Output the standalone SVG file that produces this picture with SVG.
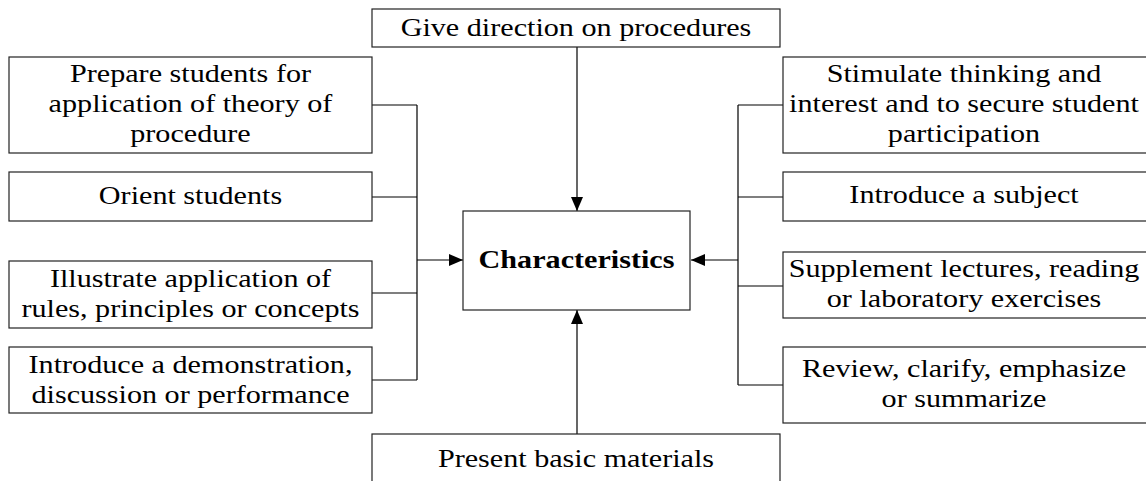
<svg xmlns="http://www.w3.org/2000/svg" width="1146" height="481" viewBox="0 0 1146 481">
<style>
.box{fill:#fff;stroke:#222;stroke-width:1.2}
.t{font-family:"Liberation Serif","Times New Roman",serif;font-size:26px;fill:#000;text-anchor:middle}
.b{font-weight:bold}
.ln{fill:none;stroke:#000;stroke-width:1.2}
</style>
<defs>
<marker id="ah" viewBox="0 0 14 12" refX="14" refY="6" markerWidth="14" markerHeight="12" markerUnits="userSpaceOnUse" orient="auto">
<path d="M0,0 L14,6 L0,12 Z" fill="#000"/>
</marker>
</defs>
<rect width="1146" height="481" fill="#fff"/>
<g id="connectors">
<path class="ln" d="M372,105 H417 M372,197 H417 M372,293 H417 M372,380 H417 M417,105 V380"/>
<path class="ln" d="M417,260 H463" marker-end="url(#ah)"/>
<path class="ln" d="M783,105 H738 M783,197 H738 M783,286 H738 M783,385 H738 M738,105 V385"/>
<path class="ln" d="M738,260 H691" marker-end="url(#ah)"/>
<path class="ln" d="M577,47 V211" marker-end="url(#ah)"/>
<path class="ln" d="M577,434 V310" marker-end="url(#ah)"/>
</g>
<g id="top">
<rect class="box" x="372" y="9" width="408" height="38"/>
<text class="t" transform="matrix(1.16 0 0 1 576 0)"><tspan x="0" y="36">Give direction on procedures</tspan></text>
</g>
<g id="bottom">
<rect class="box" x="372" y="434" width="408" height="60"/>
<text class="t" transform="matrix(1.16 0 0 1 576 0)"><tspan x="0" y="467">Present basic materials</tspan></text>
</g>
<g id="center">
<rect class="box" x="463" y="211" width="227" height="99"/>
<text class="t b" transform="matrix(1.16 0 0 1 576.5 0)"><tspan x="0" y="268">Characteristics</tspan></text>
</g>
<g id="left1">
<rect class="box" x="9" y="57" width="363" height="96"/>
<text class="t" transform="matrix(1.16 0 0 1 190.5 0)"><tspan x="0" y="82">Prepare students for</tspan><tspan x="0" y="112">application of theory of</tspan><tspan x="0" y="142">procedure</tspan></text>
</g>
<g id="left2">
<rect class="box" x="9" y="172" width="363" height="49"/>
<text class="t" transform="matrix(1.16 0 0 1 190.5 0)"><tspan x="0" y="204">Orient students</tspan></text>
</g>
<g id="left3">
<rect class="box" x="9" y="261" width="363" height="67"/>
<text class="t" transform="matrix(1.16 0 0 1 190.5 0)"><tspan x="0" y="287">Illustrate application of</tspan><tspan x="0" y="317">rules, principles or concepts</tspan></text>
</g>
<g id="left4">
<rect class="box" x="9" y="347" width="363" height="66"/>
<text class="t" transform="matrix(1.16 0 0 1 190.5 0)"><tspan x="0" y="373">Introduce a demonstration,</tspan><tspan x="0" y="403">discussion or performance</tspan></text>
</g>
<g id="right1">
<rect class="box" x="783" y="57" width="366" height="96"/>
<text class="t" transform="matrix(1.16 0 0 1 964 0)"><tspan x="0" y="82">Stimulate thinking and</tspan><tspan x="0" y="112">interest and to secure student</tspan><tspan x="0" y="142">participation</tspan></text>
</g>
<g id="right2">
<rect class="box" x="783" y="172" width="366" height="49"/>
<text class="t" transform="matrix(1.16 0 0 1 964 0)"><tspan x="0" y="203">Introduce a subject</tspan></text>
</g>
<g id="right3">
<rect class="box" x="783" y="252" width="366" height="66"/>
<text class="t" transform="matrix(1.16 0 0 1 964 0)"><tspan x="0" y="277">Supplement lectures, reading</tspan><tspan x="0" y="307">or laboratory exercises</tspan></text>
</g>
<g id="right4">
<rect class="box" x="783" y="347" width="366" height="76"/>
<text class="t" transform="matrix(1.16 0 0 1 964 0)"><tspan x="0" y="377">Review, clarify, emphasize</tspan><tspan x="0" y="407">or summarize</tspan></text>
</g>
</svg>
